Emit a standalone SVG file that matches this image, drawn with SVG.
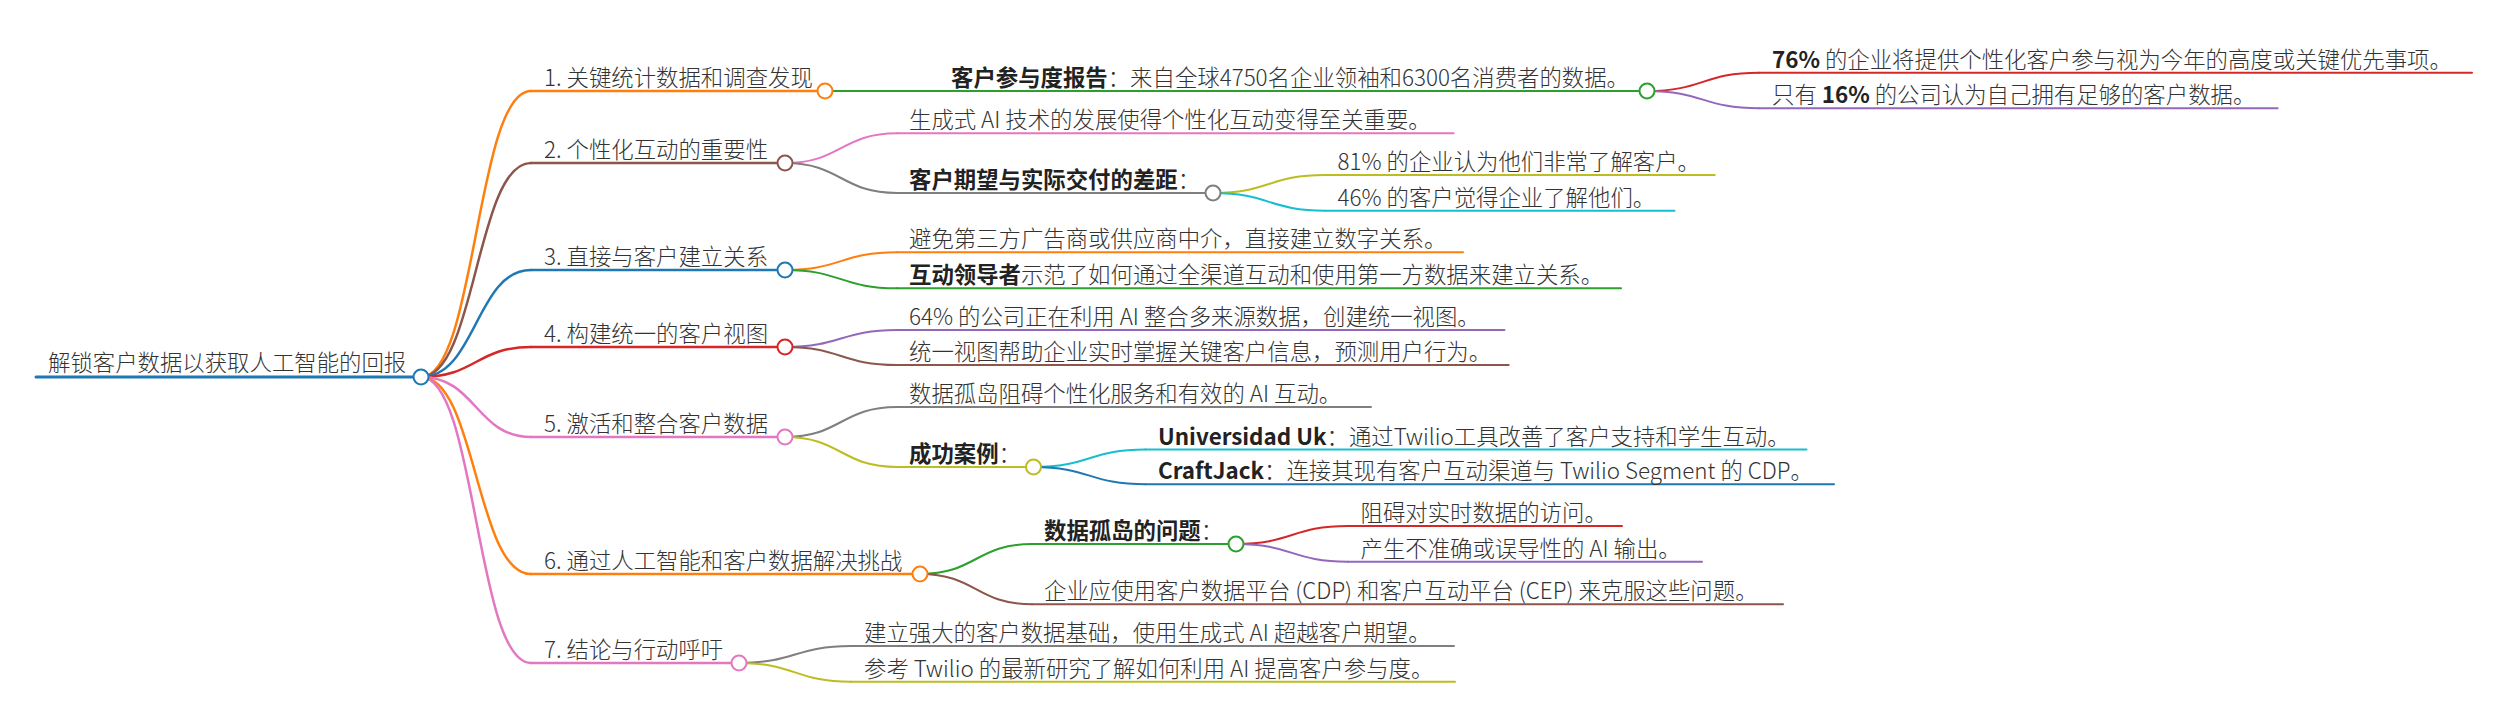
<svg xmlns="http://www.w3.org/2000/svg" width="2509" height="715" viewBox="0 0 2509 715">
<style>
text{font-family:"Noto Sans CJK SC","Noto Sans",sans-serif;font-size:22.4px;fill:#333;font-weight:300}
.b{font-weight:700;fill:#222}
path,line{fill:none;stroke-linecap:round}
.w1{stroke-width:2.5}
.w2{stroke-width:2}
circle{fill:#fff;stroke-width:2}
.blue{stroke:#1f77b4}.orange{stroke:#ff7f0e}.green{stroke:#2ca02c}.red{stroke:#d62728}.purple{stroke:#9467bd}
.brown{stroke:#8c564b}.pink{stroke:#e377c2}.gray{stroke:#7f7f7f}.olive{stroke:#bcbd22}.cyan{stroke:#17becf}
</style>
<rect width="2509" height="715" fill="#fff"/>
<g id="connectors">
<path class="w1 orange" d="M421,377 C476,377 476,91 531,91"/>
<path class="w1 brown" d="M421,377 C476,377 476,163 531,163"/>
<path class="w1 blue" d="M421,377 C476,377 476,270 531,270"/>
<path class="w1 red" d="M421,377 C476,377 476,347 531,347"/>
<path class="w1 pink" d="M421,377 C476,377 476,437 531,437"/>
<path class="w1 orange" d="M421,377 C476,377 476,574 531,574"/>
<path class="w1 pink" d="M421,377 C476,377 476,663 531,663"/>
<path class="w2 green" d="M825,91 L938,91"/>
<path class="w2 pink" d="M785,163 C841,163 841,133.3 897,133.3"/>
<path class="w2 gray" d="M785,163 C841,163 841,193 897,193"/>
<path class="w2 orange" d="M785,270 C841,270 841,252.3 897,252.3"/>
<path class="w2 green" d="M785,270 C841,270 841,288.3 897,288.3"/>
<path class="w2 purple" d="M785,347 C841,347 841,330 897,330"/>
<path class="w2 brown" d="M785,347 C841,347 841,365 897,365"/>
<path class="w2 gray" d="M785,437 C841,437 841,407 897,407"/>
<path class="w2 olive" d="M785,437 C841,437 841,467 897,467"/>
<path class="w2 green" d="M920,574 C976,574 976,544 1032,544"/>
<path class="w2 brown" d="M920,574 C976,574 976,604.3 1032,604.3"/>
<path class="w2 gray" d="M739,663 C795,663 795,646 851,646"/>
<path class="w2 olive" d="M739,663 C795,663 795,681.7 851,681.7"/>
<path class="w2 red" d="M1647,91 C1703,91 1703,72.7 1759,72.7"/>
<path class="w2 purple" d="M1647,91 C1703,91 1703,108.3 1759,108.3"/>
<path class="w2 olive" d="M1213,193 C1269,193 1269,175 1325,175"/>
<path class="w2 cyan" d="M1213,193 C1269,193 1269,210.7 1325,210.7"/>
<path class="w2 cyan" d="M1033.5,467 C1089.5,467 1089.5,449.5 1145.5,449.5"/>
<path class="w2 blue" d="M1033.5,467 C1089.5,467 1089.5,484.3 1145.5,484.3"/>
<path class="w2 red" d="M1236,544 C1292,544 1292,526 1348,526"/>
<path class="w2 purple" d="M1236,544 C1292,544 1292,561.7 1348,561.7"/>
</g>
<g id="root">
<line class="blue" stroke-width="3" x1="36" y1="377" x2="421" y2="377"/>
<text x="48" y="371">解锁客户数据以获取人工智能的回报</text>
<circle class="blue" stroke-width="2.5" cx="421" cy="377" r="7.5"/>
</g>
<g id="n1">
<line class="w1 orange" x1="531" y1="91" x2="825" y2="91"/>
<text x="544" y="86">1. 关键统计数据和调查发现</text>
<circle class="orange" cx="825" cy="91" r="7.5"/>
</g>
<g id="n1-1">
<line class="w2 green" x1="938" y1="91" x2="1647" y2="91"/>
<text x="951" y="86"><tspan class="b">客户参与度报告</tspan>：来自全球4750名企业领袖和6300名消费者的数据。</text>
<circle class="green" cx="1647" cy="91" r="7.5"/>
</g>
<g id="n1-1-1">
<line class="w2 red" x1="1759" y1="72.7" x2="2472" y2="72.7"/>
<text x="1772" y="67.7"><tspan class="b">76%</tspan> 的企业将提供个性化客户参与视为今年的高度或关键优先事项。</text>
</g>
<g id="n1-1-2">
<line class="w2 purple" x1="1759" y1="108.3" x2="2277.6" y2="108.3"/>
<text x="1772" y="103.3">只有 <tspan class="b">16%</tspan> 的公司认为自己拥有足够的客户数据。</text>
</g>
<g id="n2">
<line class="w1 brown" x1="531" y1="163" x2="785" y2="163"/>
<text x="544" y="158">2. 个性化互动的重要性</text>
<circle class="brown" cx="785" cy="163" r="7.5"/>
</g>
<g id="n2-1">
<line class="w2 pink" x1="897" y1="133.3" x2="1453.6" y2="133.3"/>
<text x="909" y="128.3">生成式 AI 技术的发展使得个性化互动变得至关重要。</text>
</g>
<g id="n2-2">
<line class="w2 gray" x1="897" y1="193" x2="1213" y2="193"/>
<text x="909" y="188"><tspan class="b">客户期望与实际交付的差距</tspan>：</text>
<circle class="gray" cx="1213" cy="193" r="7.5"/>
</g>
<g id="n2-2-1">
<line class="w2 olive" x1="1325" y1="175" x2="1714.7" y2="175"/>
<text x="1337.5" y="170">81% 的企业认为他们非常了解客户。</text>
</g>
<g id="n2-2-2">
<line class="w2 cyan" x1="1325" y1="210.7" x2="1674.5" y2="210.7"/>
<text x="1337.5" y="205.7">46% 的客户觉得企业了解他们。</text>
</g>
<g id="n3">
<line class="w1 blue" x1="531" y1="270" x2="785" y2="270"/>
<text x="544" y="265">3. 直接与客户建立关系</text>
<circle class="blue" cx="785" cy="270" r="7.5"/>
</g>
<g id="n3-1">
<line class="w2 orange" x1="897" y1="252.3" x2="1463" y2="252.3"/>
<text x="909" y="247.3">避免第三方广告商或供应商中介，直接建立数字关系。</text>
</g>
<g id="n3-2">
<line class="w2 green" x1="897" y1="288.3" x2="1621" y2="288.3"/>
<text x="909" y="283.3"><tspan class="b">互动领导者</tspan>示范了如何通过全渠道互动和使用第一方数据来建立关系。</text>
</g>
<g id="n4">
<line class="w1 red" x1="531" y1="347" x2="785" y2="347"/>
<text x="544" y="342">4. 构建统一的客户视图</text>
<circle class="red" cx="785" cy="347" r="7.5"/>
</g>
<g id="n4-1">
<line class="w2 purple" x1="897" y1="330" x2="1504.5" y2="330"/>
<text x="909" y="325">64% 的公司正在利用 AI 整合多来源数据，创建统一视图。</text>
</g>
<g id="n4-2">
<line class="w2 brown" x1="897" y1="365" x2="1508.7" y2="365"/>
<text x="909" y="360">统一视图帮助企业实时掌握关键客户信息，预测用户行为。</text>
</g>
<g id="n5">
<line class="w1 pink" x1="531" y1="437" x2="785" y2="437"/>
<text x="544" y="432">5. 激活和整合客户数据</text>
<circle class="pink" cx="785" cy="437" r="7.5"/>
</g>
<g id="n5-1">
<line class="w2 gray" x1="897" y1="407" x2="1371" y2="407"/>
<text x="909" y="402">数据孤岛阻碍个性化服务和有效的 AI 互动。</text>
</g>
<g id="n5-2">
<line class="w2 olive" x1="897" y1="467" x2="1033.5" y2="467"/>
<text x="909" y="462"><tspan class="b">成功案例</tspan>：</text>
<circle class="olive" cx="1033.5" cy="467" r="7.5"/>
</g>
<g id="n5-2-1">
<line class="w2 cyan" x1="1145.5" y1="449.5" x2="1806.5" y2="449.5"/>
<text x="1158" y="444.5"><tspan class="b">Universidad Uk</tspan>：通过Twilio工具改善了客户支持和学生互动。</text>
</g>
<g id="n5-2-2">
<line class="w2 blue" x1="1145.5" y1="484.3" x2="1834" y2="484.3"/>
<text x="1158" y="479.3"><tspan class="b">CraftJack</tspan>：连接其现有客户互动渠道与 Twilio Segment 的 CDP。</text>
</g>
<g id="n6">
<line class="w1 orange" x1="531" y1="574" x2="920" y2="574"/>
<text x="544" y="569">6. 通过人工智能和客户数据解决挑战</text>
<circle class="orange" cx="920" cy="574" r="7.5"/>
</g>
<g id="n6-1">
<line class="w2 green" x1="1032" y1="544" x2="1236" y2="544"/>
<text x="1044" y="539"><tspan class="b">数据孤岛的问题</tspan>：</text>
<circle class="green" cx="1236" cy="544" r="7.5"/>
</g>
<g id="n6-1-1">
<line class="w2 red" x1="1348" y1="526" x2="1622" y2="526"/>
<text x="1360.5" y="521">阻碍对实时数据的访问。</text>
</g>
<g id="n6-1-2">
<line class="w2 purple" x1="1348" y1="561.7" x2="1702" y2="561.7"/>
<text x="1360.5" y="556.7">产生不准确或误导性的 AI 输出。</text>
</g>
<g id="n6-2">
<line class="w2 brown" x1="1032" y1="604.3" x2="1783" y2="604.3"/>
<text x="1044" y="599.3">企业应使用客户数据平台 (CDP) 和客户互动平台 (CEP) 来克服这些问题。</text>
</g>
<g id="n7">
<line class="w1 pink" x1="531" y1="663" x2="739" y2="663"/>
<text x="544" y="658">7. 结论与行动呼吁</text>
<circle class="pink" cx="739" cy="663" r="7.5"/>
</g>
<g id="n7-1">
<line class="w2 gray" x1="851" y1="646" x2="1454" y2="646"/>
<text x="864" y="641">建立强大的客户数据基础，使用生成式 AI 超越客户期望。</text>
</g>
<g id="n7-2">
<line class="w2 olive" x1="851" y1="681.7" x2="1455" y2="681.7"/>
<text x="864" y="676.7">参考 Twilio 的最新研究了解如何利用 AI 提高客户参与度。</text>
</g>
</svg>
